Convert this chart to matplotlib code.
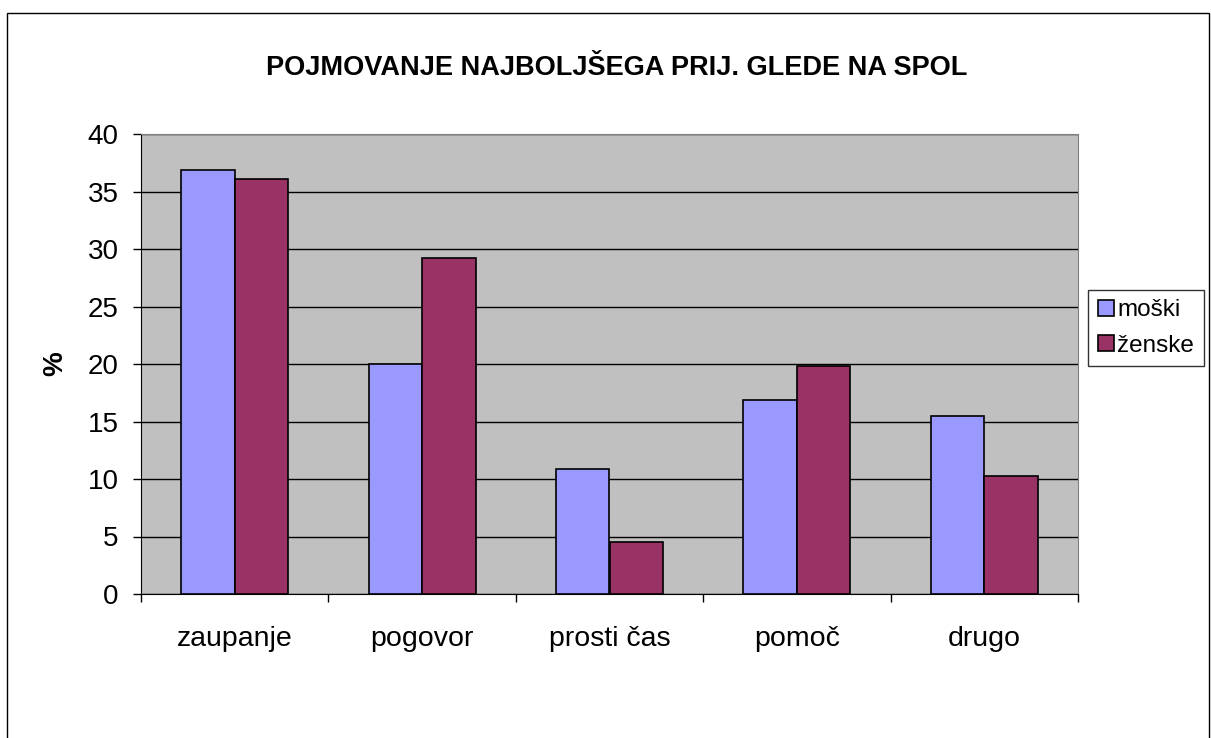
import numpy as np
import matplotlib
matplotlib.use('Agg')
import matplotlib.pyplot as plt
from matplotlib.patches import Rectangle

plt.rcParams['font.family'] = ['Liberation Sans', 'DejaVu Sans']

# data
categories = ['zaupanje', 'pogovor', 'prosti čas', 'pomoč', 'drugo']
moski = [36.9, 20.0, 10.9, 16.9, 15.5]
zenske = [36.1, 29.2, 4.5, 19.8, 10.3]
series_names = ['moški', 'ženske']
title = 'POJMOVANJE NAJBOLJŠEGA PRIJ. GLEDE NA SPOL'

W, H = 1211, 738
fig = plt.figure(figsize=(W / 100, H / 100), dpi=100)
fig.patch.set_facecolor('white')

# outer chart border
fig.add_artist(Rectangle((7 / W, -0.01), (1209 - 7) / W, 1 - 13 / H + 0.01,
                         transform=fig.transFigure, fill=False,
                         edgecolor='black', linewidth=1.0))

ax = fig.add_axes([141 / W, 1 - 594 / H, (1078 - 141) / W, (594 - 134) / H])
ax.set_facecolor('#c0c0c0')

x = np.arange(len(categories))
w = 1 / 3.5
ax.bar(x - w / 2, moski, w, color='#9999ff', edgecolor='black', linewidth=1.2,
       label=series_names[0], zorder=3)
ax.bar(x + w / 2, zenske, w, color='#993366', edgecolor='black', linewidth=1.2,
       label=series_names[1], zorder=3)

ax.set_xlim(-0.5, len(categories) - 0.5)
ax.set_ylim(0, 40)
ax.set_yticks(np.arange(0, 41, 5))
ax.yaxis.grid(True, color='black', linewidth=1.0, zorder=1)
ax.set_axisbelow(True)

ax.set_xticks(x)
ax.set_xticklabels(categories, fontsize=20.5)
ax.tick_params(axis='x', which='major', length=0, pad=23)
ax.set_xticks(np.arange(-0.5, len(categories), 1), minor=True)
ax.tick_params(axis='x', which='minor', length=6, width=1, color='black')
ax.tick_params(axis='y', length=6, width=1, labelsize=20, pad=10)

for s in ['top', 'right']:
    ax.spines[s].set_color('#808080')
for s in ['left', 'bottom']:
    ax.spines[s].set_color('black')

ax.set_ylabel('%', fontsize=20, fontweight='bold', labelpad=14)

fig.text(617 / W, 1 - 68 / H, title, ha='center', va='center',
         fontsize=19.5, fontweight='bold')

leg = ax.legend(loc='center left', bbox_to_anchor=(1088 / W, 1 - 328 / H),
                bbox_transform=fig.transFigure, fontsize=17.5, frameon=True,
                fancybox=False, edgecolor='black', handlelength=0.65,
                handleheight=0.65, handletextpad=0.15, borderpad=0.4,
                labelspacing=0.55, borderaxespad=0)
leg.get_frame().set_linewidth(1.0)

fig.savefig('out.png', dpi=100, facecolor='white')
